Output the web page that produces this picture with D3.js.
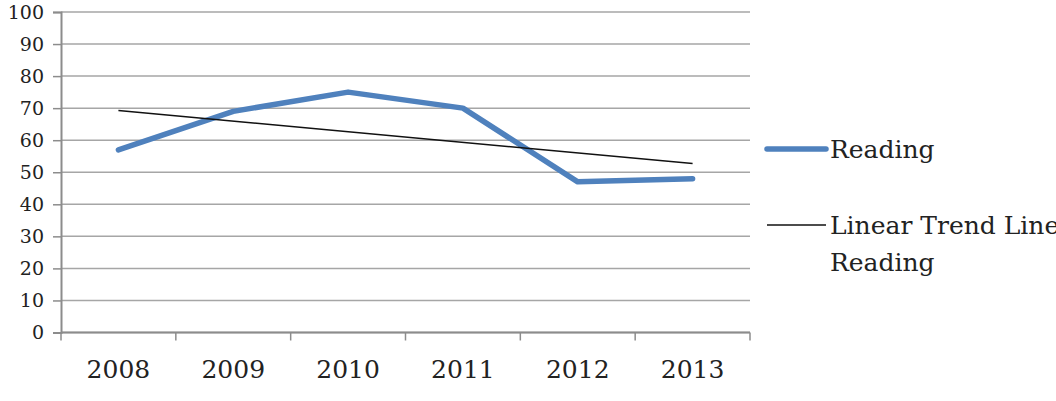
<!DOCTYPE html>
<html>
<head>
    <script src="https://cdn.jsdelivr.net/npm/d3@7"></script>
    <style>
        body { margin: 0; background: #fff; }
        text { font-family: "DejaVu Serif", serif; fill: #222; }
    </style>
</head>
<body>
    <div id="chart"></div>
    <script>
        var years = ["2008", "2009", "2010", "2011", "2012", "2013"];
        var reading = [57, 69, 75, 70, 47, 48];
        var yTicks = [0, 10, 20, 30, 40, 50, 60, 70, 80, 90, 100];
        var legendLabels = ["Reading", ["Linear Trend Line", "Reading"]];

        var w = 1056, h = 401;
        var padLeft = 61, padRight = 750, padTop = 12, padBottom = 332.5;

        var svg = d3.select("#chart").append("svg")
            .attr("width", w).attr("height", h);

        var xScale = d3.scaleBand().domain(years).range([padLeft, padRight]);
        var yScale = d3.scaleLinear().domain([0, 100]).range([padBottom, padTop]);

        // gridlines
        svg.selectAll(".grid").data(yTicks).enter().append("line")
            .attr("x1", padLeft).attr("x2", padRight)
            .attr("y1", function(d){ return yScale(d); })
            .attr("y2", function(d){ return yScale(d); })
            .style("stroke", "#a6a6a6").style("stroke-width", 1.5);

        // y axis
        var yAxis = d3.axisLeft(yScale).tickValues(yTicks).tickSize(8).tickPadding(9);
        var gy = svg.append("g").attr("transform", "translate(" + padLeft + ",0)").call(yAxis);
        gy.select(".domain").style("stroke", "#8c8c8c").style("stroke-width", 2);
        gy.selectAll(".tick line").style("stroke", "#8c8c8c").style("stroke-width", 1.5);
        gy.selectAll("text").style("font-size", "19px").style("fill", "#222")
            .attr("font-family", "DejaVu Serif");

        // x axis with ticks at band edges
        var gx = svg.append("g").attr("transform", "translate(0," + padBottom + ")");
        gx.append("line").attr("x1", padLeft).attr("x2", padRight)
            .style("stroke", "#8c8c8c").style("stroke-width", 2);
        var edges = years.map(function(d){ return xScale(d); }).concat([padRight]);
        gx.selectAll(".xt").data(edges).enter().append("line")
            .attr("x1", function(d){ return d; }).attr("x2", function(d){ return d; })
            .attr("y1", 0).attr("y2", 8)
            .style("stroke", "#8c8c8c").style("stroke-width", 1.5);
        gx.selectAll(".xl").data(years).enter().append("text")
            .attr("x", function(d){ return xScale(d) + xScale.bandwidth() / 2; })
            .attr("y", 37)
            .attr("dy", "0.35em")
            .attr("text-anchor", "middle")
            .style("font-size", "25px")
            .text(function(d){ return d; });

        var cx = function(d, i){ return xScale(years[i]) + xScale.bandwidth() / 2; };

        // linear trend (least squares)
        var n = reading.length;
        var mx = d3.mean(d3.range(n)), my = d3.mean(reading);
        var sxy = d3.sum(reading, function(v, i){ return (i - mx) * (v - my); });
        var sxx = d3.sum(d3.range(n), function(i){ return (i - mx) * (i - mx); });
        var slope = sxy / sxx, icpt = my - slope * mx;
        var trend = d3.range(n).map(function(i){ return icpt + slope * i; });

        var line = d3.line().x(cx).y(function(d){ return yScale(d); });

        svg.append("path").datum(reading).attr("d", line)
            .style("fill", "none").style("stroke", "#4f81bd")
            .style("stroke-width", 5.5).style("stroke-linecap", "round")
            .style("stroke-linejoin", "round");

        svg.append("path").datum([trend[0], trend[n - 1]])
            .attr("d", d3.line().x(function(d, i){ return cx(d, i * (n - 1)); }).y(function(d){ return yScale(d); }))
            .style("fill", "none").style("stroke", "#111").style("stroke-width", 1.5);

        // legend
        var lg = svg.append("g");
        lg.append("line").attr("x1", 767).attr("x2", 826).attr("y1", 149).attr("y2", 149)
            .style("stroke", "#4f81bd").style("stroke-width", 5.5).style("stroke-linecap", "round");
        lg.append("text").attr("x", 830).attr("y", 149).attr("dy", "0.35em")
            .style("font-size", "25px").text(legendLabels[0]);
        lg.append("line").attr("x1", 767).attr("x2", 826).attr("y1", 225).attr("y2", 225)
            .style("stroke", "#111").style("stroke-width", 1.5);
        lg.selectAll(".l2").data(legendLabels[1]).enter().append("text")
            .attr("x", 830).attr("y", function(d, i){ return 225 + i * 37; }).attr("dy", "0.35em")
            .style("font-size", "25px").text(function(d){ return d; });
    </script>
</body>
</html>
